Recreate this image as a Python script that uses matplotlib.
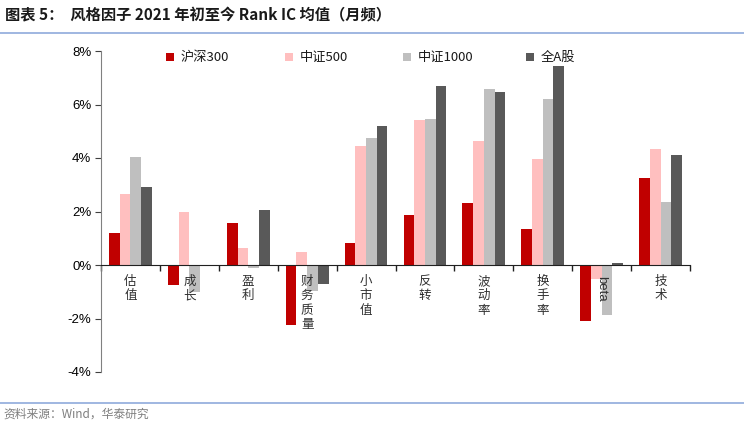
import matplotlib
matplotlib.use("Agg")
import matplotlib.pyplot as plt
from matplotlib.lines import Line2D
from matplotlib.patches import Rectangle
import numpy as np

plt.rcParams['font.family'] = ['Noto Sans CJK SC', 'DejaVu Sans']

categories = ['估值', '成长', '盈利', '财务质量', '小市值', '反转', '波动率', '换手率', 'beta', '技术']
series_names = ['沪深300', '中证500', '中证1000', '全A股']
hs300 = [1.18, -0.75, 1.56, -2.24, 0.82, 1.87, 2.33, 1.35, -2.08, 3.24]
zz500 = [2.64, 2.00, 0.65, 0.47, 4.45, 5.41, 4.65, 3.95, -0.52, 4.34]
zz1000 = [4.05, -1.02, -0.12, -0.96, 4.76, 5.45, 6.59, 6.21, -1.87, 2.34]
quanA = [2.90, -0.05, 2.06, -0.72, 5.20, 6.68, 6.47, 7.44, 0.06, 4.11]
yticks = [-4, -2, 0, 2, 4, 6, 8]

colors = ['#C00000', '#FFBFBF', '#BFBFBF', '#595959']
series = [hs300, zz500, zz1000, quanA]

W, H = 744, 426
fig = plt.figure(figsize=(W/100, H/100), dpi=100)
ax = fig.add_axes([101/W, 1-372/H, (690-101)/W, (372-51)/H])

n = len(categories)
x = np.arange(n)
bw = 0.182
for i, (vals, c, name) in enumerate(zip(series, colors, series_names)):
    ax.bar(x + (i - 1.5) * bw, vals, width=bw, color=c, label=name, zorder=2)

ax.set_xlim(-0.5, n - 0.5)
ax.set_ylim(-4, 8)
ax.set_yticks(yticks)
ax.set_yticklabels([f'{v}%' for v in yticks], fontsize=9.5, family=['Liberation Sans', 'DejaVu Sans'])
ax.tick_params(axis='y', direction='out', length=4, width=0.8, color='#404040', pad=3)

ax.spines['top'].set_visible(False)
ax.spines['right'].set_visible(False)
ax.spines['bottom'].set_position(('data', 0))
ax.spines['bottom'].set_color('#202020')
ax.spines['left'].set_color('#808080')
ax.spines['bottom'].set_zorder(3)

ax.set_xticks(np.arange(n + 1) - 0.5)
ax.set_xticklabels([])
ax.tick_params(axis='x', direction='out', length=4, width=1.0, color='#202020')

for i, cat in enumerate(categories):
    if cat == 'beta':
        ax.annotate(cat, xy=(i, 0), xytext=(0, -8), textcoords='offset points',
                    ha='center', va='top', rotation=-90, fontsize=9.5,
                    family=['Liberation Sans', 'DejaVu Sans'], color='#303030', zorder=4)
    else:
        ax.annotate('\n'.join(cat), xy=(i, 0), xytext=(0, -7), textcoords='offset points',
                    ha='center', va='top', fontsize=9, linespacing=1.15, color='#303030')

# legend drawn manually with fixed spacing (as in the reference)
leg_x = [166, 285, 403, 526]
leg_y = 57
for lx, c, name in zip(leg_x, colors, series_names):
    fig.add_artist(Rectangle((lx/W, 1-(leg_y+4)/H), 8/W, 8/H, facecolor=c, edgecolor='none',
                             transform=fig.transFigure))
    fig.text((lx+15)/W, 1-leg_y/H, name, fontsize=9.5, va='center', ha='left', color='#1a1a1a')

fig.text(5/W, 1-15/H, '图表 5：  风格因子 2021 年初至今 Rank IC 均值（月频）',
         fontsize=11, fontweight='bold', va='center', ha='left', color='#1a1a1a')
fig.add_artist(Line2D([0, 1], [1-33/H, 1-33/H], color='#8FAADC', lw=1.2))
fig.add_artist(Line2D([0, 1], [1-403/H, 1-403/H], color='#8FAADC', lw=1.2))
fig.text(3/W, 1-414/H, '资料来源：Wind，华泰研究', fontsize=8.5, va='center', ha='left', color='#7f7f7f')

fig.savefig('out.png', dpi=100)
